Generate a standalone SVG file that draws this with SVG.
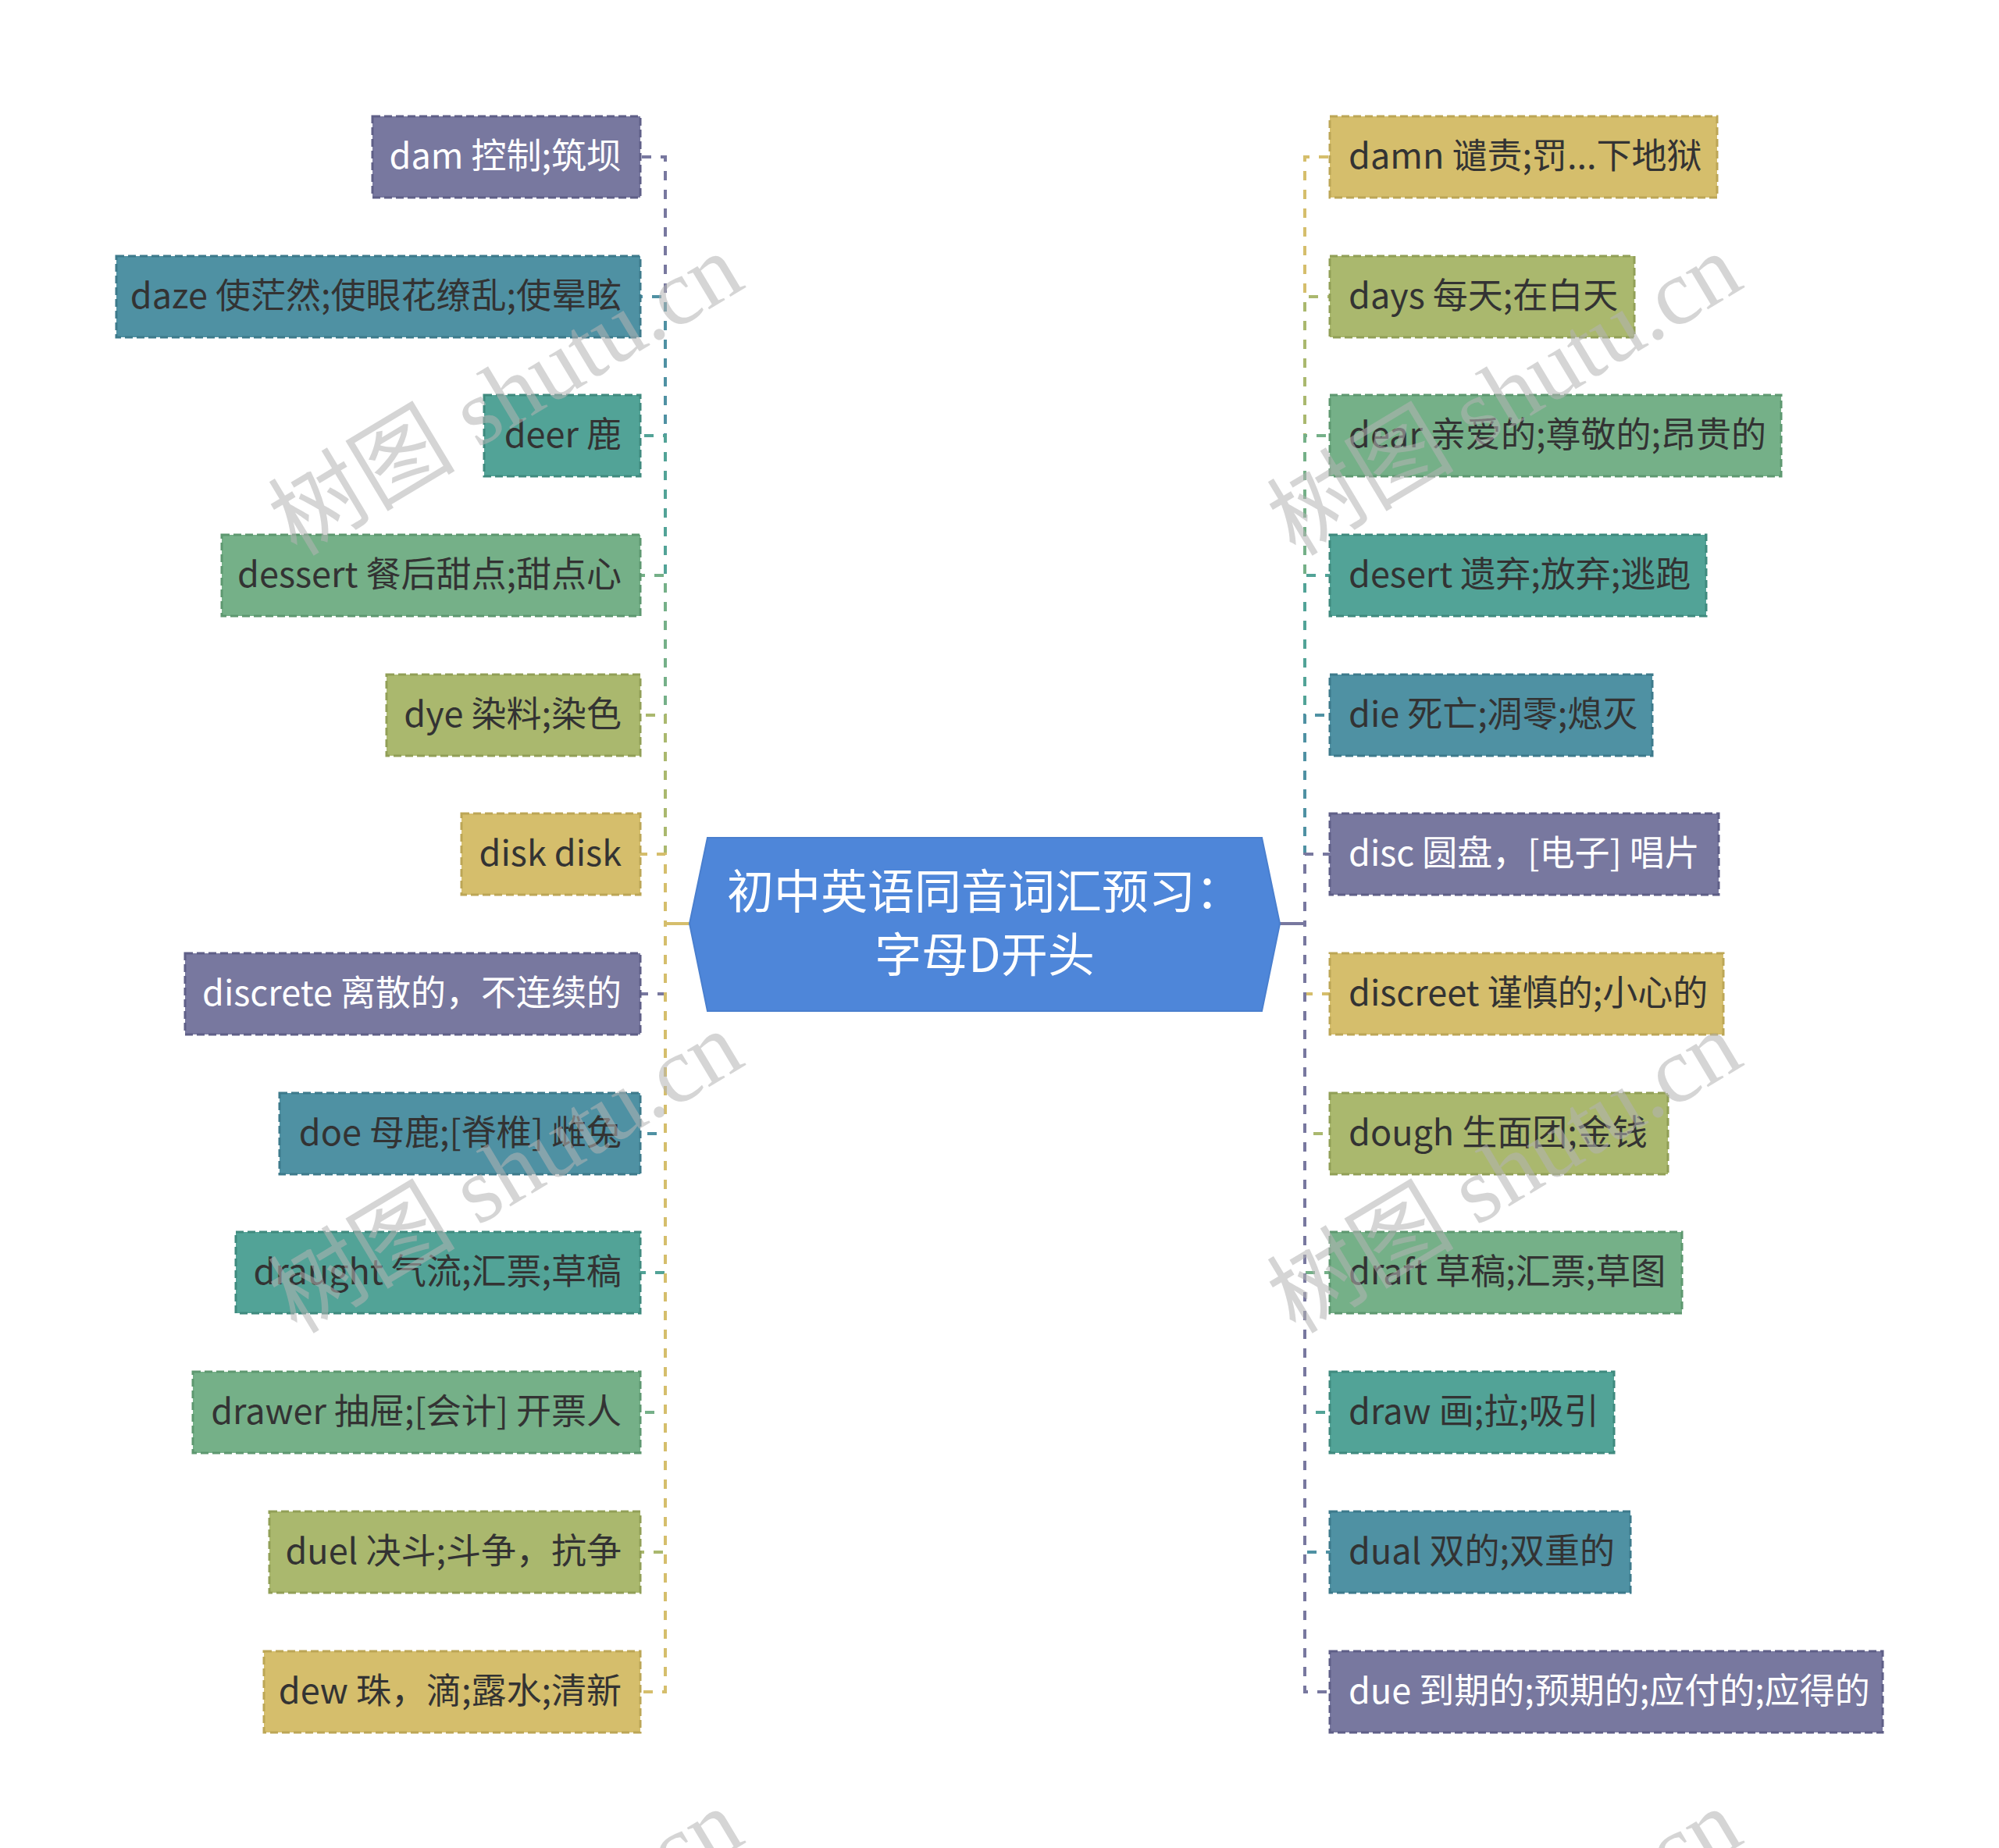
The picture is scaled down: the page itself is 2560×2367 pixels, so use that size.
<svg xmlns="http://www.w3.org/2000/svg" width="2560" height="2367" viewBox="0 0 2560 2367">
<style>
.n text{font-family:"Noto Sans CJK SC","Noto Sans",sans-serif;font-size:45px;fill:#333333}
.n text.w{fill:#ffffff}
.L text{text-anchor:end}
.R text{text-anchor:start}
.n rect{stroke-width:3;stroke-dasharray:10 5}
.pu rect{fill:#78789f;stroke:#5f5f87}
.bl rect{fill:#4f91a3;stroke:#3d7a8b}
.te rect{fill:#52a397;stroke:#3f8a7e}
.gr rect{fill:#75b088;stroke:#5e9870}
.ol rect{fill:#aab86e;stroke:#919f57}
.go rect{fill:#d5be6c;stroke:#bca656}
#connectors path{fill:none;stroke-width:4;stroke-dasharray:12 12}
.cpu{stroke:#78789f}.cbl{stroke:#4f91a3}.cte{stroke:#52a397}.cgr{stroke:#75b088}.col{stroke:#aab86e}.cgo{stroke:#d5be6c}
.wm{font-family:"Liberation Serif","Noto Sans CJK SC",serif;font-size:120px;fill:#b4b4b4;opacity:0.55;text-anchor:middle}
</style>
<rect width="2560" height="2367" fill="#ffffff"/>
<g id="connectors">
<path class="cpu" d="M884 1183H852V201H820"/>
<path class="cbl" d="M884 1183H852V380H820"/>
<path class="cte" d="M884 1183H852V558H820"/>
<path class="cgr" d="M884 1183H852V737H820"/>
<path class="col" d="M884 1183H852V916H820"/>
<path class="cgo" d="M884 1183H852V1094H820"/>
<path class="cpu" d="M884 1183H852V1273H820"/>
<path class="cbl" d="M884 1183H852V1452H820"/>
<path class="cte" d="M884 1183H852V1630H820"/>
<path class="cgr" d="M884 1183H852V1809H820"/>
<path class="col" d="M884 1183H852V1988H820"/>
<path class="cgo" d="M884 1183H852V2167H820"/>
<path class="cgo" d="M1639 1183H1671V201H1703"/>
<path class="col" d="M1639 1183H1671V380H1703"/>
<path class="cgr" d="M1639 1183H1671V558H1703"/>
<path class="cte" d="M1639 1183H1671V737H1703"/>
<path class="cbl" d="M1639 1183H1671V916H1703"/>
<path class="cpu" d="M1639 1183H1671V1094H1703"/>
<path class="cgo" d="M1639 1183H1671V1273H1703"/>
<path class="col" d="M1639 1183H1671V1452H1703"/>
<path class="cgr" d="M1639 1183H1671V1630H1703"/>
<path class="cte" d="M1639 1183H1671V1809H1703"/>
<path class="cbl" d="M1639 1183H1671V1988H1703"/>
<path class="cpu" d="M1639 1183H1671V2167H1703"/>
<line x1="852" y1="1183" x2="884" y2="1183" stroke="#d5be6c" stroke-width="4"/>
<line x1="1639" y1="1183" x2="1671" y2="1183" stroke="#78789f" stroke-width="4"/>
</g>
<g id="center">
<polygon points="883,1183 906,1073 1616,1073 1639,1183 1616,1295 906,1295" fill="#4e86d9" stroke="#4a7fce" stroke-width="2"/>
<text x="1261" y="1164" font-family="'Noto Sans CJK SC','Noto Sans',sans-serif" font-size="60" fill="#ffffff" text-anchor="middle">初中英语同音词汇预习：</text>
<text x="1261" y="1245" font-family="'Noto Sans CJK SC','Noto Sans',sans-serif" font-size="60" fill="#ffffff" text-anchor="middle">字母D开头</text>
</g>
<g id="n-dam" class="n L pu"><rect x="477" y="149" width="343" height="104"/><text class="w" x="796" y="216">dam 控制;筑坝</text></g>
<g id="n-daze" class="n L bl"><rect x="149" y="328" width="671" height="104"/><text x="796" y="395">daze 使茫然;使眼花缭乱;使晕眩</text></g>
<g id="n-deer" class="n L te"><rect x="620" y="506" width="200" height="104"/><text x="796" y="573">deer 鹿</text></g>
<g id="n-dessert" class="n L gr"><rect x="284" y="685" width="536" height="104"/><text x="796" y="752">dessert 餐后甜点;甜点心</text></g>
<g id="n-dye" class="n L ol"><rect x="495" y="864" width="325" height="104"/><text x="796" y="931">dye 染料;染色</text></g>
<g id="n-disk" class="n L go"><rect x="591" y="1042" width="229" height="104"/><text x="796" y="1109">disk disk</text></g>
<g id="n-discrete" class="n L pu"><rect x="237" y="1221" width="583" height="104"/><text class="w" x="796" y="1288">discrete 离散的，不连续的</text></g>
<g id="n-doe" class="n L bl"><rect x="358" y="1400" width="462" height="104"/><text x="796" y="1467">doe 母鹿;[脊椎] 雌兔</text></g>
<g id="n-draught" class="n L te"><rect x="302" y="1578" width="518" height="104"/><text x="796" y="1645">draught 气流;汇票;草稿</text></g>
<g id="n-drawer" class="n L gr"><rect x="247" y="1757" width="573" height="104"/><text x="796" y="1824">drawer 抽屉;[会计] 开票人</text></g>
<g id="n-duel" class="n L ol"><rect x="345" y="1936" width="475" height="104"/><text x="796" y="2003">duel 决斗;斗争，抗争</text></g>
<g id="n-dew" class="n L go"><rect x="338" y="2115" width="482" height="104"/><text x="796" y="2182">dew 珠，滴;露水;清新</text></g>
<g id="n-damn" class="n R go"><rect x="1703" y="149" width="496" height="104"/><text x="1727" y="216">damn 谴责;罚...下地狱</text></g>
<g id="n-days" class="n R ol"><rect x="1703" y="328" width="390" height="104"/><text x="1727" y="395">days 每天;在白天</text></g>
<g id="n-dear" class="n R gr"><rect x="1703" y="506" width="578" height="104"/><text x="1727" y="573">dear 亲爱的;尊敬的;昂贵的</text></g>
<g id="n-desert" class="n R te"><rect x="1703" y="685" width="482" height="104"/><text x="1727" y="752">desert 遗弃;放弃;逃跑</text></g>
<g id="n-die" class="n R bl"><rect x="1703" y="864" width="413" height="104"/><text x="1727" y="931">die 死亡;凋零;熄灭</text></g>
<g id="n-disc" class="n R pu"><rect x="1703" y="1042" width="498" height="104"/><text class="w" x="1727" y="1109">disc 圆盘，[电子] 唱片</text></g>
<g id="n-discreet" class="n R go"><rect x="1703" y="1221" width="504" height="104"/><text x="1727" y="1288">discreet 谨慎的;小心的</text></g>
<g id="n-dough" class="n R ol"><rect x="1703" y="1400" width="433" height="104"/><text x="1727" y="1467">dough 生面团;金钱</text></g>
<g id="n-draft" class="n R gr"><rect x="1703" y="1578" width="451" height="104"/><text x="1727" y="1645">draft 草稿;汇票;草图</text></g>
<g id="n-draw" class="n R te"><rect x="1703" y="1757" width="364" height="104"/><text x="1727" y="1824">draw 画;拉;吸引</text></g>
<g id="n-dual" class="n R bl"><rect x="1703" y="1936" width="385" height="104"/><text x="1727" y="2003">dual 双的;双重的</text></g>
<g id="n-due" class="n R pu"><rect x="1703" y="2115" width="708" height="104"/><text class="w" x="1727" y="2182">due 到期的;预期的;应付的;应得的</text></g>
<g id="watermarks">
<text class="wm" x="648" y="546" transform="rotate(-31 648 506)">树图 shutu.cn</text>
<text class="wm" x="1927" y="546" transform="rotate(-31 1927 506)">树图 shutu.cn</text>
<text class="wm" x="648" y="1542" transform="rotate(-31 648 1502)">树图 shutu.cn</text>
<text class="wm" x="1927" y="1542" transform="rotate(-31 1927 1502)">树图 shutu.cn</text>
<text class="wm" x="648" y="2538" transform="rotate(-31 648 2498)">树图 shutu.cn</text>
<text class="wm" x="1927" y="2538" transform="rotate(-31 1927 2498)">树图 shutu.cn</text>
</g>
</svg>
